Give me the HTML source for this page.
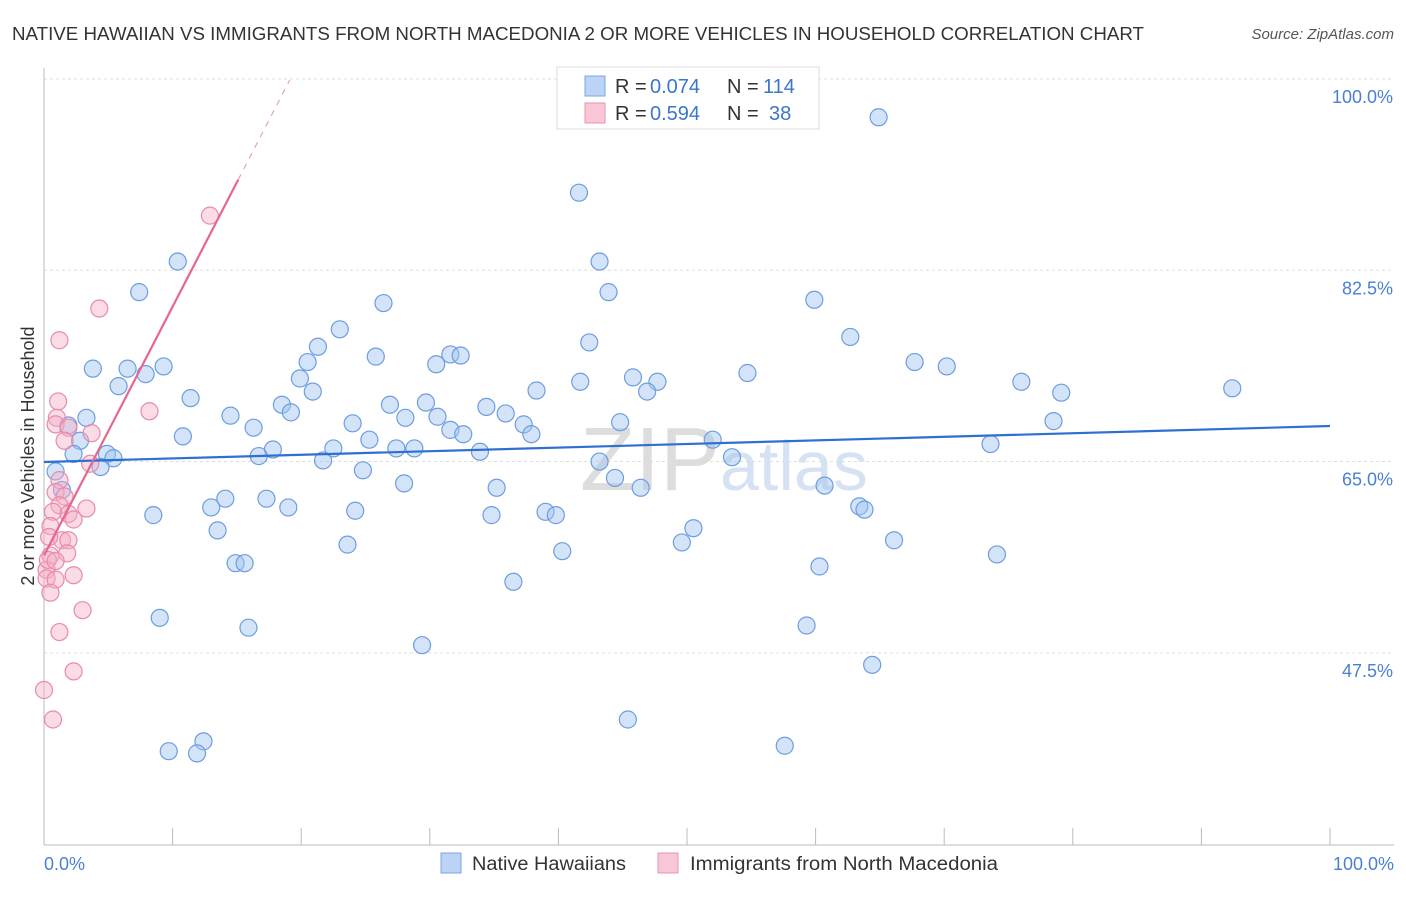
<!DOCTYPE html>
<html><head><meta charset="utf-8"><style>
body{margin:0;background:#fff;font-family:"Liberation Sans",sans-serif}
svg text{font-family:"Liberation Sans",sans-serif}
</style></head><body>
<svg id="chart" width="1406" height="892" xmlns="http://www.w3.org/2000/svg">
<text x="12" y="40" font-size="18" fill="#333" textLength="1132" lengthAdjust="spacingAndGlyphs">NATIVE HAWAIIAN VS IMMIGRANTS FROM NORTH MACEDONIA 2 OR MORE VEHICLES IN HOUSEHOLD CORRELATION CHART</text>
<text x="1394" y="39" font-size="15" fill="#555" font-style="italic" text-anchor="end">Source: ZipAtlas.com</text>
<g id="grid"></g>
<text x="720" y="490" font-size="90" fill="#ddd" text-anchor="end" font-family="Liberation Serif">ZIP</text>
<text x="720" y="490" font-size="70" fill="#d6e2f3">atlas</text>
<g id="marks"></g>
<text transform="translate(34,456) rotate(-90)" font-size="18" fill="#333" text-anchor="middle">2 or more Vehicles in Household</text>
<text x="44" y="870" font-size="18" fill="#4a7fd4">0.0%</text>
<text x="1394" y="870" font-size="18" fill="#4a7fd4" text-anchor="end">100.0%</text>
<g>
<rect x="557" y="67" width="262" height="62" fill="#fff" stroke="#ddd"/>
<rect x="585" y="76" width="20" height="20" fill="#bcd3f5" stroke="#7aa6e6"/>
<text x="615" y="93" font-size="20" fill="#333">R =</text>
<text x="650" y="93" font-size="20" fill="#3a75d0">0.074</text>
<text x="727" y="93" font-size="20" fill="#333">N =</text>
<text x="763" y="93" font-size="20" fill="#3a75d0">114</text>
<rect x="585" y="103" width="20" height="20" fill="#f8c6d6" stroke="#e895b0"/>
<text x="615" y="120" font-size="20" fill="#333">R =</text>
<text x="650" y="120" font-size="20" fill="#3a75d0">0.594</text>
<text x="727" y="120" font-size="20" fill="#333">N =</text>
<text x="769" y="120" font-size="20" fill="#3a75d0">38</text>
</g>
<g>
<rect x="441" y="853" width="20" height="20" fill="#bcd3f5" stroke="#7aa6e6"/>
<text x="472" y="870" font-size="19" fill="#333" textLength="154" lengthAdjust="spacingAndGlyphs">Native Hawaiians</text>
<rect x="658" y="853" width="20" height="20" fill="#f8c6d6" stroke="#e895b0"/>
<text x="690" y="870" font-size="19" fill="#333" textLength="308" lengthAdjust="spacingAndGlyphs">Immigrants from North Macedonia</text>
</g>
</svg>
<script>
const yTicks=[100,82.5,65,47.5];
const yTickLabels=["100.0%","82.5%","65.0%","47.5%"];
const blueX=[64.9,41.6,43.2,10.4,7.4,43.9,26.4,59.9,23.0,62.7,42.4,21.3,20.5,25.8,31.6,32.4,30.5,67.7,70.2,3.8,6.5,7.9,9.3,5.8,19.9,41.7,45.8,47.7,54.7,76.0,92.4,20.9,38.3,46.9,79.1,11.4,26.9,29.7,34.4,18.5,19.2,14.5,28.1,30.6,35.9,3.3,1.9,24.0,37.3,44.8,78.5,16.3,10.8,2.8,31.6,37.9,25.3,32.6,52.0,73.6,22.5,27.4,28.8,17.8,16.7,33.9,2.3,4.9,5.4,21.7,53.5,43.2,0.9,4.4,24.8,44.4,28.0,60.7,46.4,35.2,1.4,14.1,17.3,13.0,19.0,24.2,8.5,34.8,39.0,39.8,63.4,63.8,13.5,50.5,66.1,49.6,23.6,40.3,74.1,14.9,15.6,60.3,36.5,9.0,15.9,59.3,29.4,64.4,45.4,12.4,9.7,11.9,57.6];
const blueY=[96.5,89.6,83.3,83.3,80.5,80.5,79.5,79.8,77.1,76.4,75.9,75.5,74.1,74.6,74.8,74.7,73.9,74.1,73.7,73.5,73.5,73.0,73.7,71.9,72.6,72.3,72.7,72.3,73.1,72.3,71.7,71.4,71.5,71.4,71.3,70.8,70.2,70.4,70.0,70.2,69.5,69.2,69.0,69.1,69.4,69.0,68.3,68.5,68.4,68.6,68.7,68.1,67.3,66.9,67.9,67.5,67.0,67.5,67.0,66.6,66.2,66.2,66.2,66.1,65.5,65.9,65.7,65.7,65.3,65.1,65.4,65.0,64.1,64.5,64.2,63.5,63.0,62.8,62.6,62.6,62.4,61.6,61.6,60.8,60.8,60.5,60.1,60.1,60.4,60.1,60.9,60.6,58.7,58.9,57.8,57.6,57.4,56.8,56.5,55.7,55.7,55.4,54.0,50.7,49.8,50.0,48.2,46.4,41.4,39.4,38.5,38.3,39.0];
const pinkX=[12.9,4.3,1.2,8.2,1.1,1.0,0.9,1.9,3.7,1.6,3.6,1.2,0.9,1.6,1.2,3.3,1.9,0.7,2.3,0.5,1.4,1.9,0.4,1.8,0.5,0.2,0.2,0.9,2.3,0.5,3.0,1.2,2.3,0,0.7,0.3,0.9];
const pinkY=[87.5,79.0,76.1,69.6,70.5,69.0,68.4,68.1,67.6,66.9,64.8,63.3,62.2,61.8,61.0,60.7,60.2,60.4,59.7,59.1,57.8,57.8,58.1,56.6,56.4,55.1,54.3,54.2,54.6,53.0,51.4,49.4,45.8,44.1,41.4,56.0,55.9];
const blueTrend=[64.96,68.25];
const pinkTrend=[56.4,2.277];
const NS="http://www.w3.org/2000/svg";
const sx=v=>44+v*12.86, sy=v=>79+(100-v)*10.93;
function mk(t,a,p){const e=document.createElementNS(NS,t);for(const k in a)e.setAttribute(k,a[k]);p.appendChild(e);return e;}
const grid=document.getElementById('grid'),marks=document.getElementById('marks');
yTicks.forEach((t,i)=>{
 const l=mk('line',{x1:44,x2:1394,y1:sy(t),y2:sy(t),stroke:'#ddd','stroke-dasharray':'3,3'},grid);
 
 
 const tx=mk('text',{x:1393,y:sy(t)+24,'font-size':18,fill:'#4a7fd4','text-anchor':'end'},grid);
 tx.textContent=yTickLabels[i];
 
 
});
mk('line',{x1:44,x2:44,y1:68,y2:845,stroke:'#bbb'},grid);
mk('line',{x1:44,x2:1394,y1:845,y2:845,stroke:'#bbb'},grid);
for(let i=0;i<=10;i++){const t=mk('line',{x1:sx(i*10),x2:sx(i*10),y1:828,y2:845,stroke:'#bbb'},grid);
 
 }
blueX.forEach((x,i)=>{const c=mk('circle',{cx:sx(x),cy:sy(blueY[i]),r:8.5,fill:'rgba(160,195,240,0.45)',stroke:'#6d9de0','stroke-width':1.2},marks);
 
 });
pinkX.forEach((x,i)=>{const c=mk('circle',{cx:sx(x),cy:sy(pinkY[i]),r:8.5,fill:'rgba(245,175,200,0.45)',stroke:'#e88aab','stroke-width':1.2},marks);
 
 });
const bl=mk('line',{x1:sx(0),y1:sy(blueTrend[0]),x2:sx(100),y2:sy(blueTrend[1]),stroke:'#2e6fd2','stroke-width':2.2},marks);


const pl=mk('line',{x1:sx(0),y1:sy(pinkTrend[0]),x2:sx(15.1),y2:sy(pinkTrend[0]+pinkTrend[1]*15.1),stroke:'#e5678f','stroke-width':2.2},marks);


const pd=mk('line',{x1:sx(15.1),y1:sy(pinkTrend[0]+pinkTrend[1]*15.1),x2:sx(19.1),y2:sy(pinkTrend[0]+pinkTrend[1]*19.1),stroke:'#e8a0b8','stroke-width':1.2,'stroke-dasharray':'6,6'},marks);


</script>
</body></html>
